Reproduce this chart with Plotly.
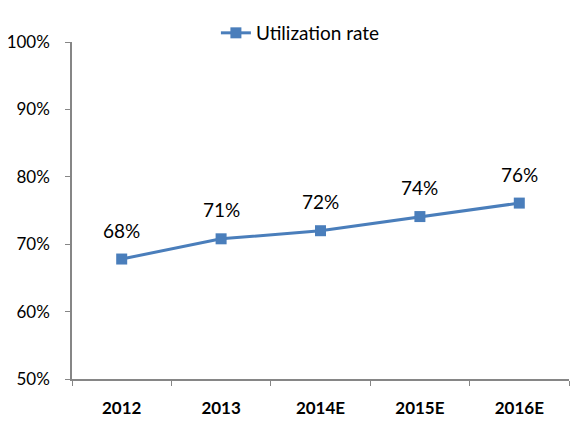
import plotly.graph_objects as go

# chart data
years = ["2012", "2013", "2014E", "2015E", "2016E"]
utilization = [67.8, 70.8, 72.0, 74.1, 76.1]
labels = ["68%", "71%", "72%", "74%", "76%"]

BLUE = "#4A7EBB"
AXIS = "#868686"
FONT = "Lato"

fig = go.Figure()
fig.add_trace(go.Scatter(
    x=years, y=utilization, mode="lines+markers", name="Utilization rate",
    line=dict(color=BLUE, width=3),
    marker=dict(symbol="square", size=11, color=BLUE),
))

# value labels above each point (category index, since "2012" reads as a number)
for i, (y, t) in enumerate(zip(utilization, labels)):
    fig.add_annotation(x=i, y=y, text=t, showarrow=False, yshift=29,
                       font=dict(family=FONT, size=19, color="#000000"))

# page body adds 8px offset, margins compensate for it
fig.update_layout(
    width=584, height=427,
    margin=dict(l=64, r=23, t=34, b=56, autoexpand=False),
    plot_bgcolor="white", paper_bgcolor="white",
    font=dict(family=FONT, size=17, color="#000000"),
    showlegend=True,
    legend=dict(xref="container", yref="container",
                x=0.356, xanchor="left", y=0.9415, yanchor="middle",
                orientation="h", font=dict(family=FONT, size=19),
                bgcolor="rgba(0,0,0,0)"),
    xaxis=dict(
        type="category", range=[-0.5, len(years) - 0.5], automargin=False,
        showline=True, linecolor=AXIS, linewidth=1.5,
        ticks="outside", tickson="boundaries", ticklen=5, tickcolor=AXIS,
        showgrid=False, zeroline=False, ticklabelstandoff=13,
        tickfont=dict(family=FONT, size=17, weight="bold"),
    ),
    yaxis=dict(
        range=[50, 100], dtick=10, ticksuffix="%", automargin=False,
        showline=True, linecolor=AXIS, linewidth=1.5,
        ticks="outside", ticklen=5, tickcolor=AXIS,
        showgrid=False, zeroline=False, ticklabelstandoff=12,
        tickfont=dict(family=FONT, size=17),
    ),
)

fig.write_html("out.html")
